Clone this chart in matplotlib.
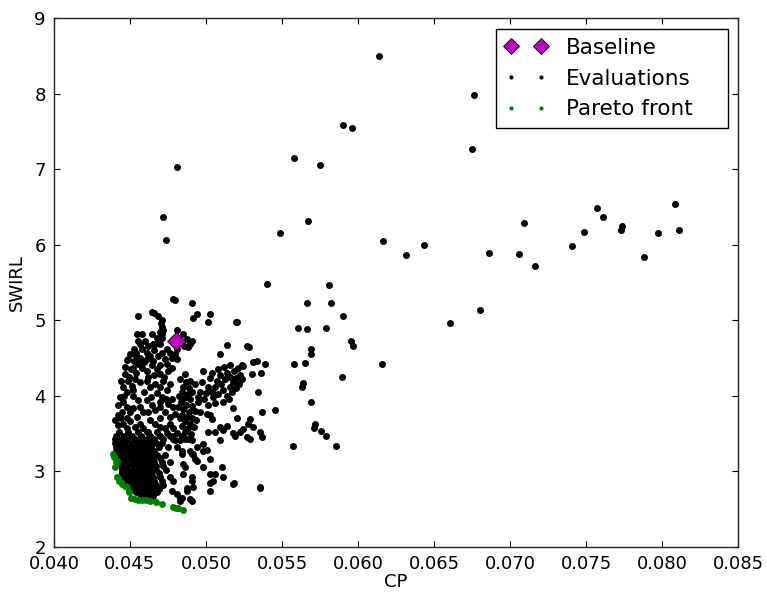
import matplotlib
matplotlib.use("Agg")
import matplotlib.pyplot as plt
from matplotlib.lines import Line2D
from matplotlib.ticker import FormatStrFormatter, MultipleLocator

# ---------------- data ----------------
baseline_cp = [0.0480]
baseline_swirl = [4.72]

# sparse evaluations, far from the dense cluster
evals_sparse = [
    (0.0614, 8.50), (0.06765, 7.98), (0.06748, 7.26), (0.0590, 7.58), (0.0596, 7.54),
    (0.05577, 7.15), (0.05752, 7.06), (0.04807, 7.03), (0.04717, 6.37), (0.04737, 6.06),
    (0.05671, 6.31), (0.05488, 6.16), (0.06162, 6.05), (0.06318, 5.86), (0.06436, 5.99),
    (0.06864, 5.89), (0.05399, 5.48), (0.05809, 5.46), (0.06605, 4.96), (0.06805, 5.14),
    (0.07062, 5.87), (0.07092, 6.28), (0.07162, 5.72), (0.07408, 5.98), (0.07485, 6.17),
    (0.07575, 6.49), (0.0761, 6.37), (0.07732, 6.19), (0.07739, 6.24), (0.07884, 5.83),
    (0.07976, 6.15), (0.08088, 6.54), (0.08114, 6.19),
]

# medium-density evaluations, x 0.052 - 0.062
evals_middle = [
    (0.05665, 5.23), (0.05825, 5.23), (0.05899, 5.06), (0.05196, 4.97), (0.05607, 4.89),
    (0.05666, 4.88), (0.05787, 4.90), (0.05954, 4.73), (0.05967, 4.66), (0.05693, 4.62),
    (0.05691, 4.55), (0.05577, 4.42), (0.0565, 4.43), (0.06156, 4.42), (0.05897, 4.25),
    (0.05638, 4.17), (0.05632, 4.12), (0.05693, 3.91), (0.05714, 3.62), (0.0571, 3.57),
    (0.05757, 3.53), (0.05787, 3.46), (0.0557, 3.33), (0.05853, 3.33), (0.05184, 2.84),
    (0.05357, 2.79),
]

# upper-left column of the cluster
evals_column = [
    (0.04785, 5.28), (0.04796, 5.26), (0.04906, 5.23), (0.04555, 5.05), (0.04643, 5.11),
    (0.04658, 5.10), (0.04686, 5.06), (0.04708, 5.00), (0.04939, 5.08), (0.04912, 5.03),
    (0.05026, 5.08), (0.05015, 4.98), (0.05202, 4.98), (0.04702, 4.96), (0.04719, 4.87),
    (0.04708, 4.81), (0.04708, 4.91), (0.04697, 4.84), (0.04708, 4.76), (0.04697, 4.69),
    (0.04544, 4.81), (0.04577, 4.82), (0.04643, 4.81), (0.04599, 4.72), (0.04555, 4.72),
    (0.04664, 4.69), (0.04566, 4.69), (0.04675, 4.76), (0.04654, 4.68), (0.04807, 4.87),
    (0.0485, 4.82), (0.04873, 4.75), (0.0484, 4.71), (0.04855, 4.66), (0.04895, 4.69),
    (0.04906, 4.73), (0.04884, 4.64), (0.04807, 4.62), (0.04796, 4.55), (0.04807, 4.49),
    (0.04528, 4.62), (0.04539, 4.57), (0.04566, 4.50), (0.04528, 4.46), (0.04550, 4.42),
    (0.04522, 4.37), (0.04478, 4.47), (0.0461, 4.57), (0.04632, 4.53), (0.04654, 4.46),
    (0.04686, 4.53), (0.04708, 4.57), (0.0473, 4.48), (0.04763, 4.57), (0.04741, 4.42),
    (0.04577, 4.37), (0.0461, 4.33), (0.04643, 4.40), (0.04675, 4.35), (0.04697, 4.29),
    (0.04752, 4.33), (0.04774, 4.37), (0.04469, 4.29), (0.04489, 4.20), (0.04511, 4.13),
    (0.04456, 4.11), (0.04533, 4.22), (0.04566, 4.18), (0.0461, 4.20), (0.04632, 4.11),
    (0.04664, 4.16), (0.04697, 4.11), (0.04719, 4.20), (0.04741, 4.07), (0.04675, 4.03),
    (0.04708, 3.98), (0.04434, 3.98), (0.04456, 3.92), (0.04478, 3.85), (0.04423, 3.87),
    (0.04500, 3.78), (0.04445, 3.78), (0.04522, 4.00), (0.04555, 3.94), (0.04566, 3.85),
    (0.04588, 3.78), (0.04544, 3.72), (0.0461, 3.94), (0.04643, 3.87), (0.04664, 3.81),
    (0.04697, 3.85), (0.0473, 3.78), (0.04752, 3.89), (0.04774, 3.96), (0.04785, 3.85),
    (0.04796, 3.76), (0.04632, 3.68), (0.04664, 3.63), (0.04697, 3.59), (0.0473, 3.57),
    (0.04763, 3.63), (0.04785, 3.57), (0.04807, 3.50), (0.04774, 3.46), (0.04741, 3.50),
    (0.04401, 3.68), (0.04423, 3.61), (0.04456, 3.63), (0.04478, 3.57), (0.04500, 3.66),
    (0.04533, 3.59), (0.04566, 3.63), (0.04588, 3.57), (0.0461, 3.52), (0.04500, 4.55),
    (0.04490, 4.48), (0.04505, 4.35), (0.04540, 4.30), (0.04590, 4.45), (0.04620, 4.25),
    (0.04660, 4.28), (0.04700, 4.40), (0.04725, 4.25), (0.04760, 4.15), (0.04480, 4.05),
    (0.04520, 4.08), (0.04590, 4.05), (0.04640, 3.98), (0.04700, 3.92), (0.04740, 3.95),
    (0.04480, 3.70), (0.04520, 3.83), (0.04620, 3.78), (0.04700, 3.70), (0.04760, 3.72),
    (0.04580, 4.62), (0.04620, 4.66), (0.04540, 4.52), (0.04610, 4.49), (0.04660, 4.60),
    (0.04745, 4.62), (0.04775, 4.50), (0.04470, 4.38), (0.04495, 4.25), (0.04440, 4.20),
    (0.04460, 4.00), (0.04420, 3.75), (0.04440, 3.70),
]

# vertical streak around CP = 0.048 - 0.049
evals_streak = [
    (0.04862, 4.29), (0.04829, 4.22), (0.04870, 4.18), (0.04850, 4.12), (0.04890, 4.10),
    (0.04840, 4.05), (0.04880, 4.02), (0.04910, 4.05), (0.04855, 3.97), (0.04895, 3.95),
    (0.04835, 3.92), (0.04870, 3.88), (0.04905, 3.86), (0.04850, 3.82), (0.04885, 3.79),
    (0.04925, 3.80), (0.04840, 3.75), (0.04875, 3.72), (0.04910, 3.70), (0.04860, 3.66),
    (0.04895, 3.63), (0.04845, 3.60), (0.04880, 3.57), (0.04920, 3.58), (0.04860, 3.52),
    (0.04900, 3.49), (0.04840, 3.46), (0.04880, 3.43), (0.04829, 3.41), (0.04862, 3.43),
    (0.04796, 3.41), (0.04807, 3.32), (0.04840, 3.27), (0.04895, 4.20), (0.04925, 4.15),
    (0.04820, 4.00), (0.04815, 3.85), (0.04950, 3.92), (0.04935, 3.68), (0.04830, 3.70),
]

# diagonal band, CP 0.049 - 0.054
evals_band = [
    (0.04982, 4.33), (0.05026, 4.24), (0.04971, 4.18), (0.05015, 4.11), (0.04960, 4.05),
    (0.04945, 3.98), (0.04990, 3.95), (0.05000, 4.03), (0.05040, 4.05), (0.05060, 4.12),
    (0.05045, 3.98), (0.05080, 4.02), (0.05070, 4.20), (0.05100, 4.15), (0.05090, 4.28),
    (0.05110, 4.08), (0.05125, 4.22), (0.05135, 4.00), (0.05140, 4.30), (0.05155, 4.12),
    (0.05160, 4.25), (0.05170, 4.05), (0.05180, 4.18), (0.05185, 4.32), (0.05195, 4.10),
    (0.05200, 4.24), (0.05210, 4.36), (0.05220, 4.15), (0.05225, 4.28), (0.05235, 4.40),
    (0.05150, 3.95), (0.05110, 3.92), (0.05060, 3.90), (0.05080, 4.35), (0.05040, 4.30),
    (0.05120, 4.38), (0.05160, 4.40), (0.05240, 4.22), (0.05010, 3.88), (0.05092, 4.55),
    (0.0514, 4.67), (0.05272, 4.66), (0.05285, 4.65), (0.05311, 4.44), (0.05337, 4.46),
    (0.05241, 4.39), (0.05388, 4.42), (0.0530, 4.29), (0.0536, 4.30), (0.05344, 4.05),
    (0.05366, 3.79), (0.05452, 3.81), (0.0518, 3.83), (0.05202, 3.71), (0.0529, 3.69),
    (0.05278, 3.63), (0.05245, 3.56), (0.05191, 3.47), (0.05114, 3.54), (0.05059, 3.52),
    (0.05015, 3.52), (0.0529, 3.42), (0.05366, 3.45), (0.05026, 3.74), (0.05037, 3.69),
    (0.04961, 3.78), (0.05004, 3.76), (0.05092, 3.59), (0.05136, 3.60), (0.05268, 3.45),
    (0.05311, 3.59), (0.05355, 3.52), (0.0518, 3.50), (0.05224, 3.52),
]

# lower-right spread of the cluster
evals_lower = [
    (0.04906, 3.41), (0.04939, 3.32), (0.04982, 3.36), (0.05004, 3.28), (0.04906, 3.23),
    (0.04939, 3.14), (0.04982, 3.05), (0.05026, 2.96), (0.05048, 2.87), (0.05103, 3.05),
    (0.05114, 2.92), (0.0518, 2.83), (0.05355, 2.78), (0.05026, 2.74), (0.04906, 2.87),
    (0.04873, 2.78), (0.04906, 2.61), (0.04829, 2.65), (0.0484, 3.23), (0.04851, 3.10),
    (0.04785, 2.87), (0.04807, 2.70), (0.04829, 2.61), (0.04774, 2.74), (0.05092, 3.41),
    (0.04982, 3.27), (0.04916, 3.23), (0.04928, 3.16), (0.04895, 3.27), (0.05026, 3.16),
    (0.05059, 2.96), (0.05026, 2.85), (0.04862, 3.05), (0.04851, 2.96), (0.04906, 2.92),
    (0.04916, 2.79), (0.04873, 2.74), (0.04895, 2.63), (0.0484, 2.65),
]

# dense core: rows of (SWIRL, [CP values])
evals_core_rows = [
    (3.52, [0.0443, 0.0449, 0.0455, 0.0462, 0.0468]),
    (3.47, [0.0441, 0.0446, 0.0451, 0.0457, 0.0463, 0.0470, 0.0476]),
    (3.42, [0.0440, 0.0444, 0.0448, 0.0453, 0.0458, 0.0461, 0.0466, 0.0472, 0.0478]),
    (3.37, [0.0440, 0.0443, 0.0447, 0.0451, 0.0455, 0.0459, 0.0463, 0.0467, 0.0471]),
    (3.32, [0.0441, 0.0445, 0.0449, 0.0452, 0.0456, 0.0460, 0.0464, 0.0469, 0.0475]),
    (3.27, [0.0441, 0.0444, 0.0448, 0.0451, 0.0455, 0.0458, 0.0462, 0.0466]),
    (3.22, [0.0442, 0.0446, 0.0449, 0.0453, 0.0457, 0.0460, 0.0464, 0.0468, 0.0473]),
    (3.17, [0.0443, 0.0447, 0.0450, 0.0454, 0.0458, 0.0461, 0.0465, 0.0470]),
    (3.12, [0.0444, 0.0447, 0.0451, 0.0455, 0.0458, 0.0462, 0.0466, 0.0471, 0.0476]),
    (3.07, [0.0444, 0.0448, 0.0452, 0.0455, 0.0459, 0.0463, 0.0467, 0.0472]),
    (3.02, [0.0445, 0.0448, 0.0452, 0.0456, 0.0460, 0.0463, 0.0467, 0.0474]),
    (2.97, [0.0445, 0.0449, 0.0453, 0.0456, 0.0460, 0.0464, 0.0469]),
    (2.92, [0.0446, 0.0450, 0.0453, 0.0457, 0.0461, 0.0465, 0.0470, 0.0476]),
    (2.87, [0.0448, 0.0451, 0.0455, 0.0458, 0.0462, 0.0466, 0.0471]),
    (2.82, [0.0450, 0.0453, 0.0456, 0.0460, 0.0463, 0.0467, 0.0472]),
    (2.77, [0.0452, 0.0455, 0.0458, 0.0461, 0.0465, 0.0469]),
    (2.72, [0.0454, 0.0457, 0.0460, 0.0464, 0.0468]),
    (2.67, [0.0457, 0.0461, 0.0465]),
]

pareto_cp = [0.04386, 0.04395, 0.04408, 0.04416, 0.04400, 0.04413, 0.04426, 0.04445,
             0.04467, 0.04482, 0.04495, 0.04505, 0.04533, 0.04555, 0.04577, 0.04605,
             0.04632, 0.04671, 0.04709, 0.04785, 0.04800, 0.04818, 0.04847]
pareto_swirl = [3.23, 3.19, 3.12, 3.14, 3.05, 2.92, 2.875, 2.83,
                2.81, 2.79, 2.72, 2.65, 2.63, 2.625, 2.62, 2.615,
                2.61, 2.59, 2.57, 2.52, 2.515, 2.51, 2.49]

# ---------------- assemble ----------------
eval_pairs = (evals_sparse + evals_middle + evals_column + evals_streak
              + evals_band + evals_lower
              + [(cp, sw) for sw, cps in evals_core_rows for cp in cps])
eval_cp = [p[0] for p in eval_pairs]
eval_swirl = [p[1] for p in eval_pairs]

# ---------------- plot ----------------
plt.rcParams['font.family'] = ['DejaVu Sans']
fig = plt.figure(figsize=(7.67, 5.99), dpi=100)
ax = fig.add_axes([0.0704, 0.0873, 0.8918, 0.8826])

ax.plot(eval_cp, eval_swirl, linestyle='none', marker='o', ms=5,
        mfc='black', mec='black', mew=0, zorder=2)
ax.plot(pareto_cp, pareto_swirl, linestyle='none', marker='o', ms=5,
        mfc=(0, 0.5, 0), mec=(0, 0.5, 0), mew=0, zorder=3)
ax.plot(baseline_cp, baseline_swirl, linestyle='none', marker='D', ms=9,
        mfc='#bf00bf', mec='black', mew=0.6, zorder=4)

ax.set_xlim(0.040, 0.085)
ax.set_ylim(2, 9)
ax.xaxis.set_major_locator(MultipleLocator(0.005))
ax.xaxis.set_major_formatter(FormatStrFormatter('%.3f'))
ax.yaxis.set_major_locator(MultipleLocator(1))
ax.tick_params(direction='in', top=True, right=True, length=4.5, width=0.8,
               labelsize=13, pad=6, colors='black')
for s in ax.spines.values():
    s.set_linewidth(1.0)
    s.set_color('#222222')

ax.set_xlabel('CP', fontsize=13, labelpad=0)
ax.set_ylabel('SWIRL', fontsize=13, labelpad=6)

handles = [
    Line2D([], [], linestyle='none', marker='D', ms=8.5, mfc='#bf00bf', mec='black', mew=0.6),
    Line2D([], [], linestyle='none', marker='o', ms=3, mfc='black', mec='black', mew=0),
    Line2D([], [], linestyle='none', marker='o', ms=3, mfc=(0, 0.5, 0), mec=(0, 0.5, 0), mew=0),
]
leg = ax.legend(handles, ['Baseline', 'Evaluations', 'Pareto front'],
                loc='upper right', bbox_to_anchor=(0.646, 0.79, 0.339, 0.189),
                mode='expand', numpoints=2, fontsize=15.5, handlelength=2.0,
                handletextpad=0.85, labelspacing=0.5, borderpad=0.4,
                borderaxespad=0.0, fancybox=False, framealpha=1, edgecolor='black')
leg.get_frame().set_linewidth(1.0)

fig.savefig('out.png', dpi=100, facecolor='white')
